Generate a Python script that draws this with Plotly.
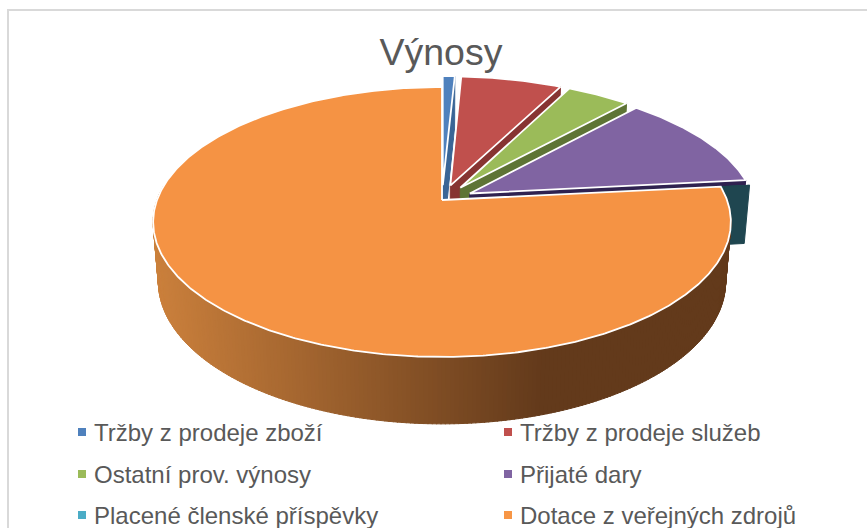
import math
import plotly.graph_objects as go

TITLE = "Výnosy"
categories = ["Tržby z prodeje zboží", "Tržby z prodeje služeb", "Ostatní prov. výnosy",
              "Přijaté dary", "Placené členské příspěvky", "Dotace z veřejných zdrojů"]
values = [0.8, 6.7, 4.2, 11.63, 0.03, 76.64]

top_colors = ["#4F81BD", "#C0504D", "#9BBB59", "#8064A2", "#4BACC6", "#F59344"]
wall_colors = ["#3A6596", "#873432", "#5E7435", "#2F2250", "#1F4650", "#633A1B"]
explode = [0.115, 0.115, 0.115, 0.11, 0.105, 0.0]

# projection of the tilted pie on the page (pixels)
CX, CY, A, B, K, DEPTH, M = 442, 200, 285, 131.4, 0.163, 60, 0.018


def project(px, py, low=False):
    w = 1 + K * py + (M if low else 0)
    return CX + A * px / w, CY - (B * py - (DEPTH if low else 0)) / w


def arc(start, end, shift, low=False, step=0.5):
    n = max(2, int(abs(end - start) / step) + 1)
    pts = []
    for i in range(n + 1):
        t = math.radians(start + (end - start) * i / n)
        pts.append(project(math.sin(t) + shift[0], math.cos(t) + shift[1], low))
    return pts


def poly(pts, fill, line=None, width=0):
    xs = [p[0] for p in pts] + [pts[0][0]]
    ys = [p[1] for p in pts] + [pts[0][1]]
    return go.Scatter(x=xs, y=ys, mode="lines", fill="toself", fillcolor=fill,
                      line=dict(color=line or fill, width=width if line else 1),
                      hoverinfo="skip", showlegend=False)


def mix(c1, c2, f):
    a = [int(c1[i:i + 2], 16) for i in (1, 3, 5)]
    b = [int(c2[i:i + 2], 16) for i in (1, 3, 5)]
    return "rgb(%d,%d,%d)" % tuple(round(u + (v - u) * f) for u, v in zip(a, b))


fig = go.Figure()
total = sum(values)
angles = [0]
for v in values:
    angles.append(angles[-1] + v / total * 360)

for i, cat in enumerate(categories):
    a0, a1 = angles[i], angles[i + 1]
    mid = math.radians((a0 + a1) / 2)
    shift = (explode[i] * math.sin(mid), explode[i] * math.cos(mid))
    apex_t = project(shift[0], shift[1])
    apex_b = project(shift[0], shift[1], True)
    if i < 5:
        # cut face on the clockwise side of the wedge
        rim_t = arc(a1, a1, shift)[0]
        rim_b = arc(a1, a1, shift, True)[0]
        fig.add_trace(poly([apex_t, rim_t, rim_b, apex_b], wall_colors[i]))
    else:
        # rounded outer wall with its horizontal shading
        seg = 0.75
        t = a0
        while t < 276:
            pts = arc(t, t + seg + 0.15, shift, step=1) + arc(t + seg + 0.15, t, shift, True, step=1)
            xm = sum(p[0] for p in pts) / len(pts)
            f = min(1, max(0, (xm - 155) / (540 - 155)))
            col = mix("#CB803C", wall_colors[5], f)
            fig.add_trace(poly(pts, col))
            t += seg
    top = [apex_t] + arc(a0, a1, shift)
    if a1 - a0 < 1:
        # a wedge this thin shows only its cut face
        fig.add_trace(poly(top, wall_colors[i]))
    else:
        fig.add_trace(poly(top, top_colors[i], "#FFFFFF", 1.8))

# legend
leg_cols = [82, 508]
leg_rows = [432, 474, 515]
for i, cat in enumerate(categories):
    lx, ly = leg_cols[i % 2], leg_rows[i // 2]
    c = {5: "#F79646"}.get(i, top_colors[i])
    fig.add_trace(go.Scatter(x=[lx], y=[ly], mode="markers", name=cat,
                             marker=dict(symbol="square", size=8, color=c),
                             hoverinfo="name", showlegend=False))
    fig.add_annotation(x=lx + 10, y=ly, text=cat, xref="x", yref="y", showarrow=False,
                       xanchor="left", yanchor="middle",
                       font=dict(family="Liberation Sans", size=24, color="#595959"))

# chart frame
fig.add_shape(type="line", x0=8, x1=8, y0=9, y1=528, line=dict(color="#D9D9D9", width=2), layer="below")
fig.add_shape(type="line", x0=7, x1=867, y0=10, y1=10, line=dict(color="#D9D9D9", width=2), layer="below")

fig.update_layout(
    width=867, height=528, margin=dict(l=0, r=0, t=0, b=0),
    paper_bgcolor="#FFFFFF", plot_bgcolor="#FFFFFF", showlegend=False,
    title=dict(text=TITLE, x=441 / 867, xanchor="center", y=1 - 52 / 528, yanchor="middle",
               font=dict(family="Liberation Sans", size=37.5, color="#595959")),
    xaxis=dict(range=[0, 867], visible=False, fixedrange=True),
    yaxis=dict(range=[528, 0], visible=False, fixedrange=True),
)
fig.write_html("out.html", config=dict(displayModeBar=False),
               post_script="document.body.style.margin='0';document.body.style.overflow='hidden';")
